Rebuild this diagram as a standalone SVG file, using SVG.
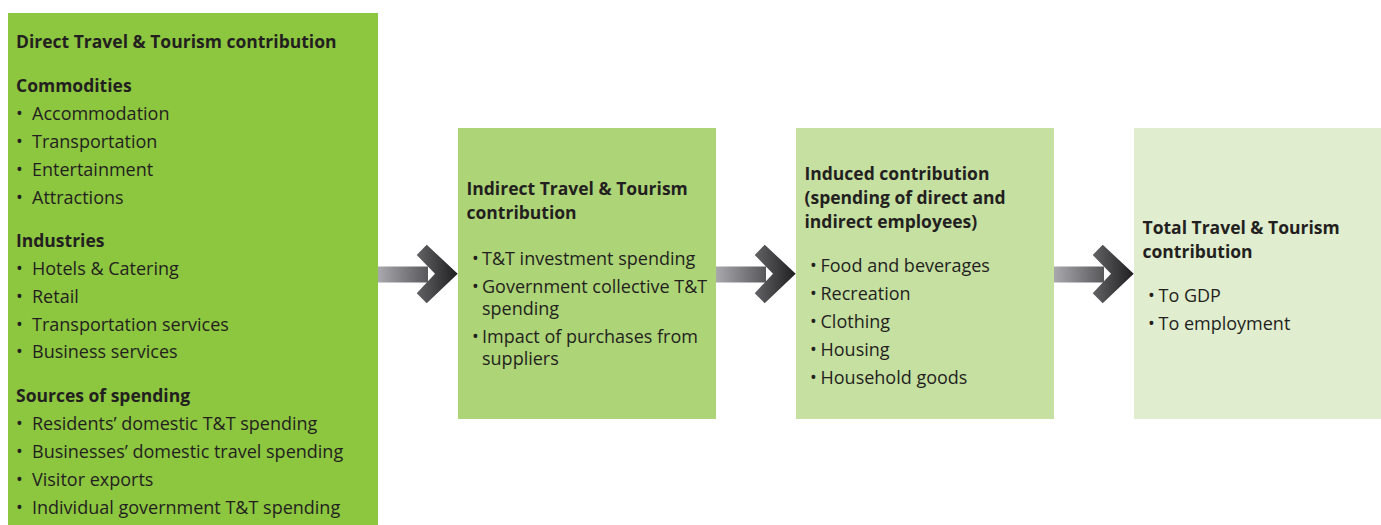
<svg xmlns="http://www.w3.org/2000/svg" width="1381" height="525" viewBox="0 0 1381 525">
<defs>
<linearGradient id="shaftGrad" x1="0" y1="0" x2="1" y2="0">
<stop offset="0" stop-color="#a9a9ad"/>
<stop offset="1" stop-color="#58585b"/>
</linearGradient>
<linearGradient id="headGrad" x1="0" y1="0" x2="1" y2="0">
<stop offset="0" stop-color="#636366"/>
<stop offset="1" stop-color="#1f1f22"/>
</linearGradient>
<g id="arrow">
<rect x="0" y="266.5" width="50" height="16" fill="url(#shaftGrad)"/>
<polygon points="38.7,255 48.7,244.7 79.7,273.8 48.7,303.2 38.7,293.2 57,273.8" fill="url(#headGrad)"/>
</g>
</defs>
<style>
text{font-family:"Open Sans","Liberation Sans",sans-serif;fill:#231f20;font-size:18px}
.h{font-weight:bold;font-size:17.5px}
.b{text-anchor:middle}
</style>
<rect width="1381" height="525" fill="#ffffff"/>
<g id="connectors">
<use href="#arrow" x="378"/>
<use href="#arrow" x="716"/>
<use href="#arrow" x="1054"/>
</g>
<g id="direct">
<rect x="8" y="13" width="370" height="520" fill="#8dc63f"/>
<text class="h" x="16" y="48">Direct Travel &amp; Tourism contribution</text>
<text class="h" x="16" y="92">Commodities</text>
<text class="b" x="19.5" y="120">•</text><text x="32" y="120">Accommodation</text>
<text class="b" x="19.5" y="148">•</text><text x="32" y="148">Transportation</text>
<text class="b" x="19.5" y="176">•</text><text x="32" y="176">Entertainment</text>
<text class="b" x="19.5" y="203.5">•</text><text x="32" y="203.5">Attractions</text>
<text class="h" x="16" y="247">Industries</text>
<text class="b" x="19.5" y="275">•</text><text x="32" y="275">Hotels &amp; Catering</text>
<text class="b" x="19.5" y="303">•</text><text x="32" y="303">Retail</text>
<text class="b" x="19.5" y="331">•</text><text x="32" y="331">Transportation services</text>
<text class="b" x="19.5" y="358">•</text><text x="32" y="358">Business services</text>
<text class="h" x="16" y="402">Sources of spending</text>
<text class="b" x="19.5" y="430">•</text><text x="32" y="430">Residents’ domestic T&amp;T spending</text>
<text class="b" x="19.5" y="458">•</text><text x="32" y="458">Businesses’ domestic travel spending</text>
<text class="b" x="19.5" y="485.5">•</text><text x="32" y="485.5">Visitor exports</text>
<text class="b" x="19.5" y="513.5">•</text><text x="32" y="513.5">Individual government T&amp;T spending</text>
</g>
<g id="indirect">
<rect x="458" y="128" width="258" height="291" fill="#add476"/>
<text class="h" x="466.5" y="195">Indirect Travel &amp; Tourism</text>
<text class="h" x="466.5" y="219">contribution</text>
<text class="b" x="475.5" y="265">•</text><text x="482" y="265">T&amp;T investment spending</text>
<text class="b" x="475.5" y="292.5">•</text><text x="482" y="292.5">Government collective T&amp;T</text>
<text x="482" y="314.5">spending</text>
<text class="b" x="475.5" y="342.5">•</text><text x="482" y="342.5">Impact of purchases from</text>
<text x="482" y="365">suppliers</text>
</g>
<g id="induced">
<rect x="796" y="128" width="258" height="291" fill="#c6e0a1"/>
<text class="h" x="804.5" y="180">Induced contribution</text>
<text class="h" x="804.5" y="204">(spending of direct and</text>
<text class="h" x="804.5" y="228">indirect employees)</text>
<text class="b" x="813.5" y="272">•</text><text x="820.5" y="272">Food and beverages</text>
<text class="b" x="813.5" y="300">•</text><text x="820.5" y="300">Recreation</text>
<text class="b" x="813.5" y="328">•</text><text x="820.5" y="328">Clothing</text>
<text class="b" x="813.5" y="356">•</text><text x="820.5" y="356">Housing</text>
<text class="b" x="813.5" y="383.5">•</text><text x="820.5" y="383.5">Household goods</text>
</g>
<g id="total">
<rect x="1134" y="128" width="258" height="291" fill="#e0edce"/>
<text class="h" x="1142.5" y="234">Total Travel &amp; Tourism</text>
<text class="h" x="1142.5" y="258">contribution</text>
<text class="b" x="1151.5" y="302">•</text><text x="1158.5" y="302">To GDP</text>
<text class="b" x="1151.5" y="330">•</text><text x="1158.5" y="330">To employment</text>
</g>
</svg>
